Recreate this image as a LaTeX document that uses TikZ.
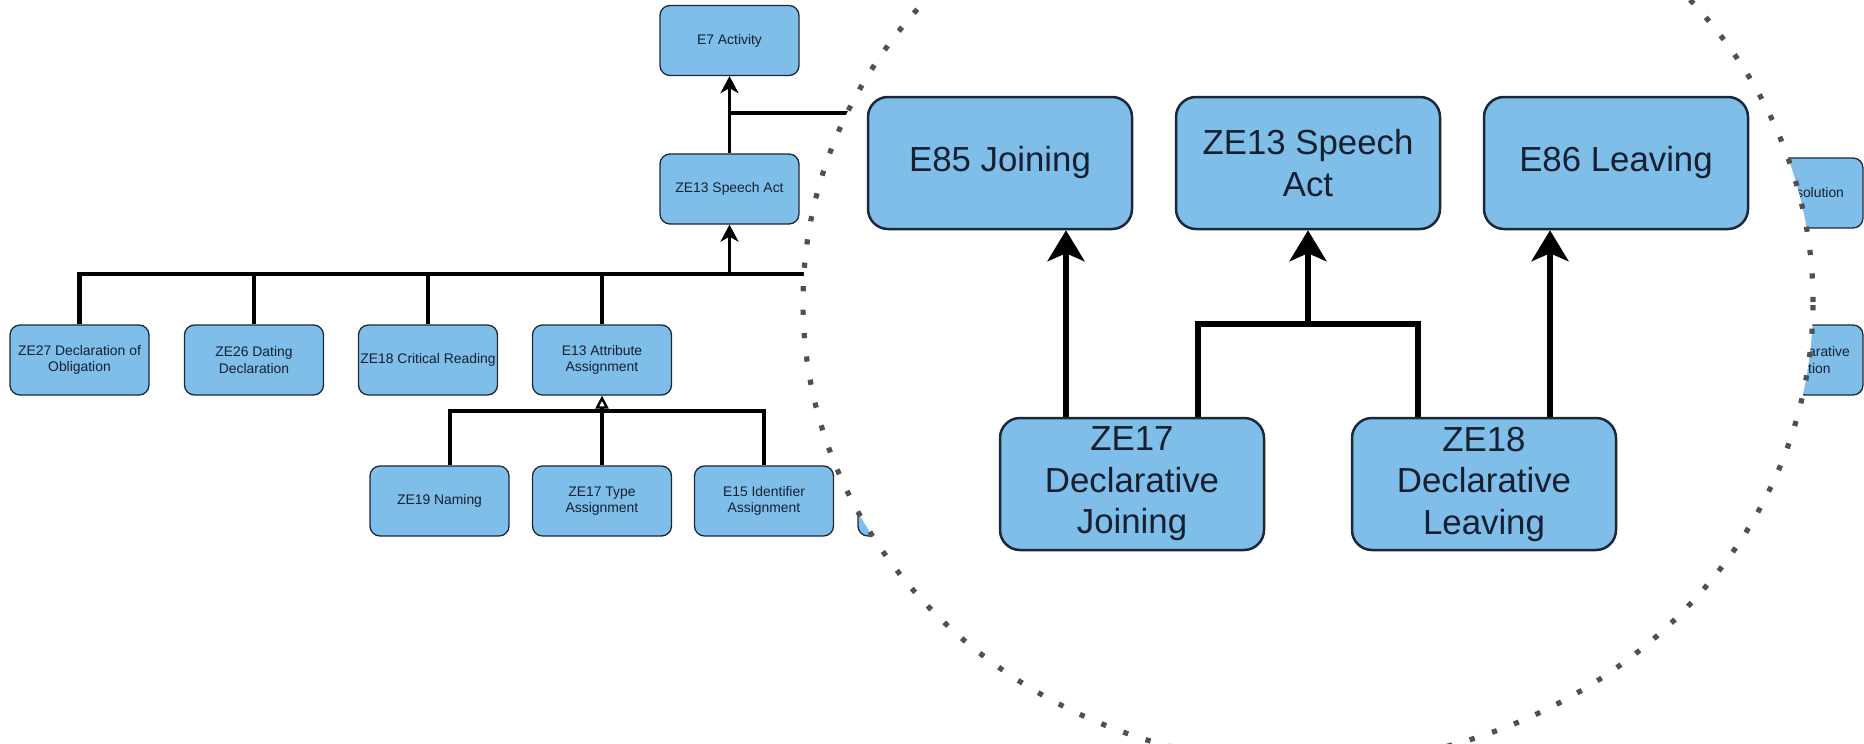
\documentclass[tikz,border=0pt]{standalone}
\usepackage{fontspec}
\setmainfont{Liberation Sans}
\usetikzlibrary{calc, positioning, shapes, arrows.meta}

\definecolor{boxblue}{RGB}{126,190,232}
\definecolor{edge}{RGB}{28,40,58}
\definecolor{ink}{RGB}{22,32,48}
\definecolor{dotgray}{RGB}{80,80,80}

\begin{document}
\begin{tikzpicture}[x=1pt, y=-1pt]

\tikzstyle{cls} = [draw=edge, fill=boxblue, text=ink, line width=1.3pt, rounded corners=10pt, minimum width=139pt, minimum height=70pt, inner xsep=1pt, inner ysep=2pt, align=center, font=\fontsize{13.9}{16.5}\selectfont];
\tikzstyle{bigcls} = [draw=edge, fill=boxblue, text=ink, line width=2.5pt, rounded corners=20pt, minimum width=264pt, minimum height=132pt, inner sep=2pt, align=center, font=\fontsize{34.8}{41.5}\selectfont];
\tikzstyle{link} = [line width=3.2pt];
\tikzstyle{bus} = [line width=4.5pt];
\tikzstyle{arrow} = [line width=3.2pt, -{Stealth[length=17pt, width=18pt, inset=5pt]}];
\tikzstyle{hollow} = [line width=3.2pt, -{Triangle[open, length=13pt, width=13pt, line width=2.4pt]}];
\tikzstyle{biglink} = [line width=5.5pt];
\tikzstyle{bigarrow} = [line width=5.5pt, -{Stealth[length=31pt, width=37pt, inset=8pt]}];
\tikzstyle{lens} = [draw=dotgray, line width=5.2pt, dash pattern=on 5.2pt off 18.3pt];

\clip (0,0) rectangle (1864,744);

\node(act) [cls] at (729.5,40.5) {E7 Activity};
\node(speech) [cls] at (729.5,189) {ZE13 Speech Act};

\node(oblig) [cls] at (79.5,360) {ZE27 Declaration of\\Obligation};
\node(dating) [cls] at (254,360) {ZE26 Dating\\Declaration};
\node(critical) [cls] at (428,360) {ZE18 Critical Reading};
\node(attrib) [cls] at (602,360) {E13 Attribute\\Assignment};

\node(naming) [cls] at (439.5,501) {ZE19 Naming};
\node(typeA) [cls] at (602,501) {ZE17 Type\\Assignment};
\node(ident) [cls] at (764,501) {E15 Identifier\\Assignment};
\node(nextL3) [cls] at (927.5,501) {};

\node(dissol) [cls, minimum width=86pt] at (1820,193) {solution};
\node(declDiss) [cls, minimum width=68pt, align=left] at (1829,360) {arative\\tion};

\coordinate (hub) at (1000,113);
\coordinate (busEnd) at (950,274);
\coordinate (split) at (602,411);

\draw [arrow] (speech) -- (act);
\draw [bus] (act.south |- hub) -- (hub);

\draw [bus] (oblig.north) |- (busEnd);
\draw [link] (dating.north) -- (dating.north |- busEnd);
\draw [link] (critical.north) -- (critical.north |- busEnd);
\draw [link] (attrib.north) -- (attrib.north |- busEnd);
\draw [arrow] (speech.south |- busEnd) -- (speech.south);

\draw [link] ([xshift=10.5pt]naming.north) |- (split) -| (ident.north);
\draw [link] (typeA.north) -- (split);
\draw [hollow] (split) -- (attrib.south);

\fill[white] (1308,302) ellipse [x radius=505pt, y radius=462pt];
\draw[lens] (1308,302) ellipse [x radius=505pt, y radius=462pt];

\node(joinE) [bigcls] at (1000,163) {E85 Joining};
\node(speechZ) [bigcls] at (1308,163) {ZE13 Speech\\Act};
\node(leaveE) [bigcls] at (1616,163) {E86 Leaving};

\node(declJ) [bigcls] at (1132,484) {ZE17\\Declarative\\Joining};
\node(declL) [bigcls] at (1484,484) {ZE18\\Declarative\\Leaving};

\coordinate (meet) at (1308,324);

\draw [bigarrow] ([xshift=-66pt]declJ.north) -- ([xshift=66pt]joinE.south);
\draw [bigarrow] ([xshift=66pt]declL.north) -- ([xshift=-66pt]leaveE.south);
\draw [biglink] ([xshift=66pt]declJ.north) |- (meet) -| ([xshift=-66pt]declL.north);
\draw [bigarrow] (meet) -- (speechZ.south);

\end{tikzpicture}
\end{document}
